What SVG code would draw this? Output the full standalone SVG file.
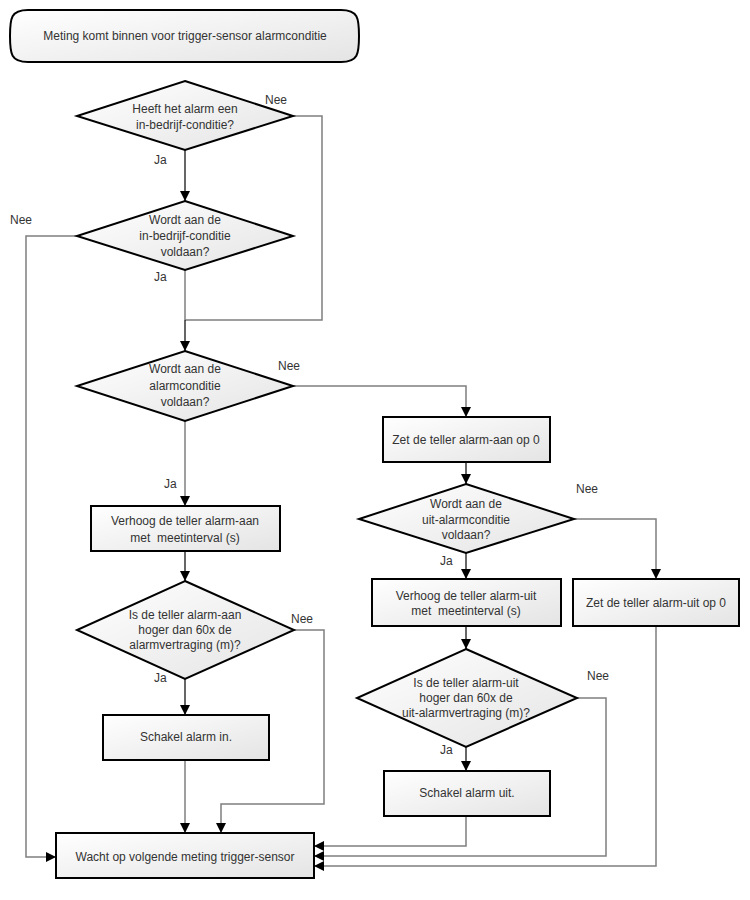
<svg xmlns="http://www.w3.org/2000/svg" width="750" height="900" viewBox="0 0 750 900">
<defs>
<linearGradient id="g" x1="0" y1="0" x2="1" y2="1">
<stop offset="0" stop-color="#ffffff"/>
<stop offset="1" stop-color="#e4e4e4"/>
</linearGradient>
<marker id="ah" viewBox="0 0 10 10" refX="10" refY="5" markerWidth="10" markerHeight="10" markerUnits="userSpaceOnUse" orient="auto">
<path d="M0,0 L10,5 L0,10 Z" fill="#000"/>
</marker>
<style>
.n{fill:url(#g);stroke:#000;stroke-width:2}
.t{font-family:"Liberation Sans",Arial,sans-serif;font-size:12px;fill:#333;text-anchor:middle}
.l{font-family:"Liberation Sans",Arial,sans-serif;font-size:12px;fill:#333}
.c{fill:none;stroke:#7f7f7f;stroke-width:1.5}
.k{fill:none;stroke:#000;stroke-width:1.2}
</style>
</defs>
<rect width="750" height="900" fill="#fff"/>

<g id="connectors">
<path class="k" d="M185,150 V201" marker-end="url(#ah)"/>
<path class="c" d="M293,116 H322 V320 H185"/>
<path class="c" d="M185,270 V320"/>
<path class="k" d="M185,320 V351" marker-end="url(#ah)"/>
<path class="c" d="M77,236 H26 V857 H56" marker-end="url(#ah)"/>
<path class="c" d="M293,386 H466 V417" marker-end="url(#ah)"/>
<path class="c" d="M185,421 V506" marker-end="url(#ah)"/>
<path class="k" d="M185,551 V581" marker-end="url(#ah)"/>
<path class="c" d="M294,630 H324 V804 H221 V833" marker-end="url(#ah)"/>
<path class="k" d="M185,679 V715" marker-end="url(#ah)"/>
<path class="c" d="M185,760 V833" marker-end="url(#ah)"/>
<path class="k" d="M466,462 V484" marker-end="url(#ah)"/>
<path class="c" d="M574,519 H656 V579" marker-end="url(#ah)"/>
<path class="k" d="M466,553 V579" marker-end="url(#ah)"/>
<path class="k" d="M466,626 V649" marker-end="url(#ah)"/>
<path class="c" d="M656,626 V866 H314" marker-end="url(#ah)"/>
<path class="c" d="M577,698 H606 V856 H314" marker-end="url(#ah)"/>
<path class="k" d="M466,747 V771" marker-end="url(#ah)"/>
<path class="c" d="M466,816 V846 H314" marker-end="url(#ah)"/>
<text class="l" x="265" y="104">Nee</text>
<text class="l" x="154" y="164">Ja</text>
<text class="l" x="10" y="224">Nee</text>
<text class="l" x="154" y="281">Ja</text>
<text class="l" x="278" y="370">Nee</text>
<text class="l" x="164" y="488">Ja</text>
<text class="l" x="291" y="623">Nee</text>
<text class="l" x="154" y="682">Ja</text>
<text class="l" x="576" y="493">Nee</text>
<text class="l" x="440" y="565">Ja</text>
<text class="l" x="587" y="680">Nee</text>
<text class="l" x="440" y="754">Ja</text>
</g>

<g id="start">
<path class="n" d="M28,10 H341 C358,10 359,18 359,36 C359,54 358,62 341,62 H28 C11,62 10,54 10,36 C10,18 11,10 28,10 Z"/>
<text class="t" x="185" y="40">Meting komt binnen voor trigger-sensor alarmconditie</text>
</g>

<g id="d1">
<polygon class="n" points="185,81 293,116 185,150 77,116"/>
<text class="t" x="185" y="113">Heeft het alarm een</text>
<text class="t" x="185" y="129">in-bedrijf-conditie?</text>
</g>

<g id="d2">
<polygon class="n" points="185,201 293,236 185,270 77,236"/>
<text class="t" x="185" y="224">Wordt aan de</text>
<text class="t" x="185" y="240">in-bedrijf-conditie</text>
<text class="t" x="185" y="256">voldaan?</text>
</g>

<g id="d3">
<polygon class="n" points="185,351 293,386 185,421 77,386"/>
<text class="t" x="185" y="373">Wordt aan de</text>
<text class="t" x="185" y="390">alarmconditie</text>
<text class="t" x="185" y="406">voldaan?</text>
</g>

<g id="b1">
<rect class="n" x="91" y="506" width="189" height="45"/>
<text class="t" x="185" y="525">Verhoog de teller alarm-aan</text>
<text class="t" x="185" y="542" xml:space="preserve">met  meetinterval (s)</text>
</g>

<g id="d4">
<polygon class="n" points="185,581 294,630 185,679 77,630"/>
<text class="t" x="185" y="619">Is de teller alarm-aan</text>
<text class="t" x="185" y="634">hoger dan 60x de</text>
<text class="t" x="185" y="649">alarmvertraging (m)?</text>
</g>

<g id="b2">
<rect class="n" x="103" y="715" width="166" height="45"/>
<text class="t" x="186" y="741">Schakel alarm in.</text>
</g>

<g id="end">
<rect class="n" x="56" y="833" width="258" height="45"/>
<text class="t" x="185" y="861">Wacht op volgende meting trigger-sensor</text>
</g>

<g id="b3">
<rect class="n" x="383" y="417" width="167" height="45"/>
<text class="t" x="466" y="444">Zet de teller alarm-aan op 0</text>
</g>

<g id="d5">
<polygon class="n" points="466,484 574,519 466,553 359,519"/>
<text class="t" x="466" y="508">Wordt aan de</text>
<text class="t" x="466" y="524">uit-alarmconditie</text>
<text class="t" x="466" y="539">voldaan?</text>
</g>

<g id="b4">
<rect class="n" x="372" y="579" width="189" height="47"/>
<text class="t" x="466" y="600">Verhoog de teller alarm-uit</text>
<text class="t" x="466" y="615" xml:space="preserve">met  meetinterval (s)</text>
</g>

<g id="b5">
<rect class="n" x="573" y="579" width="166" height="47"/>
<text class="t" x="656" y="607">Zet de teller alarm-uit op 0</text>
</g>

<g id="d6">
<polygon class="n" points="466,649 577,698 466,747 357,698"/>
<text class="t" x="466" y="687">Is de teller alarm-uit</text>
<text class="t" x="466" y="702">hoger dan 60x de</text>
<text class="t" x="466" y="717">uit-alarmvertraging (m)?</text>
</g>

<g id="b6">
<rect class="n" x="384" y="771" width="166" height="45"/>
<text class="t" x="467" y="797">Schakel alarm uit.</text>
</g>
</svg>
